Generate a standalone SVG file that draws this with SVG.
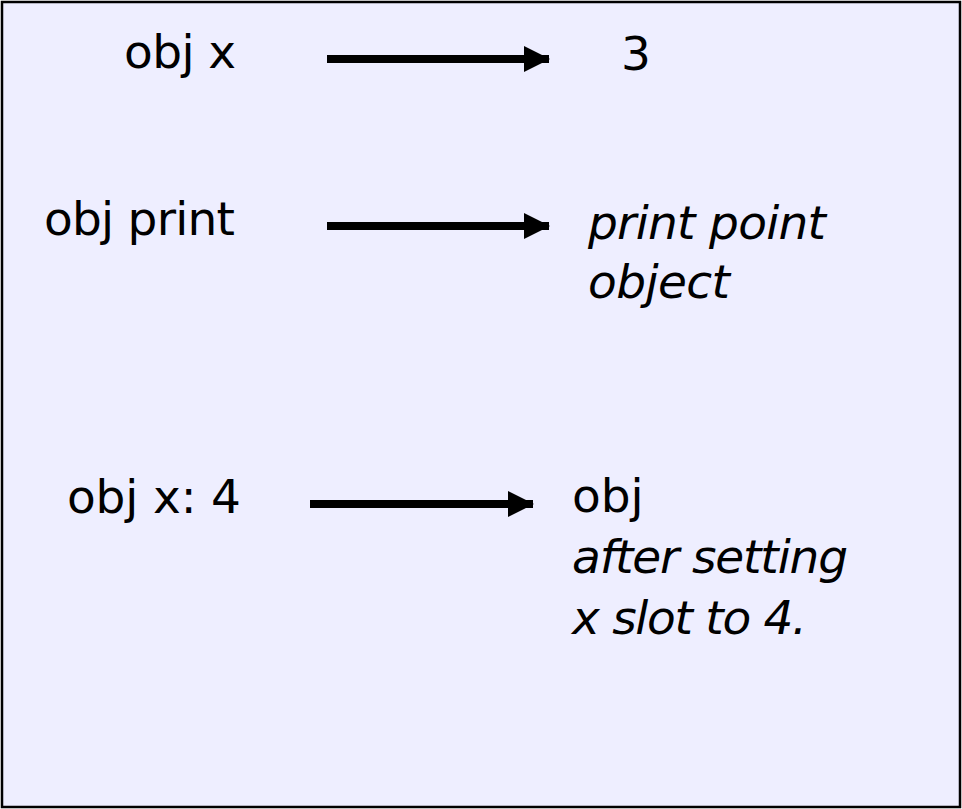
<svg xmlns="http://www.w3.org/2000/svg" width="962" height="809" viewBox="0 0 962 809">
<style>
.t{font-family:"DejaVu Sans","Verdana",sans-serif;font-size:47px;fill:#000}
.i{font-style:italic}
.ln{stroke:#000;stroke-width:8;fill:none}
</style>
<defs>
<marker id="ah" markerWidth="26" markerHeight="26" refX="25" refY="13" orient="auto" markerUnits="userSpaceOnUse">
<path d="M0,0 L26,13 L0,26 Z" fill="#000"/>
</marker>
</defs>
<rect x="2" y="2" width="958" height="805" fill="#EEEEFF" stroke="#000" stroke-width="2.5"/>
<g id="n-objx"><text class="t" x="124" y="68" textLength="112">obj x</text></g>
<g id="n-3"><text class="t" x="621" y="70">3</text></g>
<g id="n-objprint"><text class="t" x="44" y="235" textLength="191">obj print</text></g>
<g id="n-printpoint"><text class="t i" x="588" y="239" textLength="238">print point</text><text class="t i" x="588" y="298" textLength="142">object</text></g>
<g id="n-objx4"><text class="t" x="67" y="513" textLength="174">obj x: 4</text></g>
<g id="n-result"><text class="t" x="572" y="512">obj</text><text class="t i" x="572" y="573" textLength="276">after setting</text><text class="t i" x="572" y="634" textLength="235">x slot to 4.</text></g>
<g id="connectors">
<line class="ln" x1="327" y1="59" x2="549" y2="59" marker-end="url(#ah)"/>
<line class="ln" x1="327" y1="226" x2="549" y2="226" marker-end="url(#ah)"/>
<line class="ln" x1="310" y1="504" x2="533" y2="504" marker-end="url(#ah)"/>
</g>
</svg>
